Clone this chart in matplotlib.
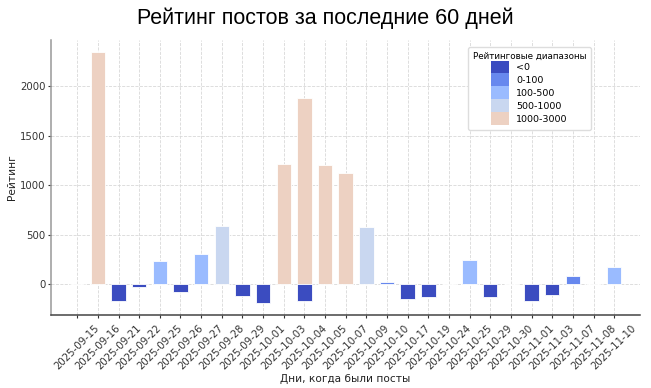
import matplotlib
matplotlib.use("Agg")
import matplotlib.pyplot as plt
from matplotlib.patches import Patch

# posts: one entry per post (a day can have several posts)
post_dates = ['2025-09-15', '2025-09-16', '2025-09-21', '2025-09-22', '2025-09-25',
              '2025-09-26', '2025-09-27', '2025-09-28', '2025-09-29', '2025-10-01',
              '2025-10-03', '2025-10-04', '2025-10-04', '2025-10-05', '2025-10-07',
              '2025-10-09', '2025-10-10', '2025-10-17', '2025-10-19', '2025-10-24',
              '2025-10-25', '2025-10-29', '2025-10-30', '2025-11-01', '2025-11-03',
              '2025-11-07', '2025-11-08', '2025-11-10']
post_ratings = [5, 2345, -170, -25, 233,
                -75, 308, 592, -122, -187,
                1214, 1888, -173, 1208, 1127,
                582, 23, -149, -126, 0,
                240, -126, 0, -173, -112,
                81, 0, 169]

bin_labels = ['<0', '0-100', '100-500', '500-1000', '1000-3000']
bin_edges = [0, 100, 500, 1000, 3000]
bin_colors = ['#3b4cc0', '#6788ee', '#9abbff', '#c9d7f0', '#edd1c2']


def rating_color(v):
    for edge, col in zip(bin_edges, bin_colors):
        if v < edge:
            return col
    return bin_colors[-1]


colors = [rating_color(v) for v in post_ratings]

fig = plt.figure(figsize=(6.51, 3.88), dpi=100)
ax = fig.add_axes([51/651, 1 - 314.7/388, (640 - 51)/651, (314.7 - 40)/388])

ax.set_axisbelow(True)
ax.grid(True, linestyle='--', linewidth=0.6, color='#d8d8d8')
ax.bar(post_dates, post_ratings, width=0.7, color=colors, edgecolor='white', linewidth=0.6)

ax.set_xlim(-1.27, 27.25)
ax.set_ylim(-309, 2470)
ax.set_yticks([0, 500, 1000, 1500, 2000])

for s in ['top', 'right']:
    ax.spines[s].set_visible(False)
ax.spines['left'].set_color('#999999')
ax.spines['left'].set_linewidth(1.1)
ax.spines['bottom'].set_color('#444444')
ax.spines['bottom'].set_linewidth(1.1)

ax.tick_params(axis='both', labelsize=7.3, length=2.5, width=0.8, colors='#333333')
ax.tick_params(axis='y', pad=1.5)
plt.setp(ax.get_xticklabels(), rotation=45, ha='center')

ax.set_xlabel('Дни, когда были посты', fontsize=7.6, color='#222222', labelpad=2)
ax.set_ylabel('Рейтинг', fontsize=7.6, color='#222222')
ax.yaxis.set_label_coords(-0.058, 0.5)

handles = [Patch(facecolor=c, edgecolor='none') for c in bin_colors]
leg = ax.legend(handles, bin_labels, title='Рейтинговые диапазоны',
                loc='upper right', bbox_to_anchor=(0.917, 0.975), borderaxespad=0,
                fontsize=6.8, title_fontsize=6.3, handlelength=1.85, handleheight=1.72,
                labelspacing=0.0, handletextpad=0.8, frameon=True, fancybox=True,
                framealpha=1, edgecolor='#dddddd', borderpad=0.5)

fig.text(0.5, 1 - 18/388, 'Рейтинг постов за последние 60 дней',
         ha='center', va='center', fontsize=15.5, family='Liberation Sans')

fig.savefig('out.png', dpi=100)
